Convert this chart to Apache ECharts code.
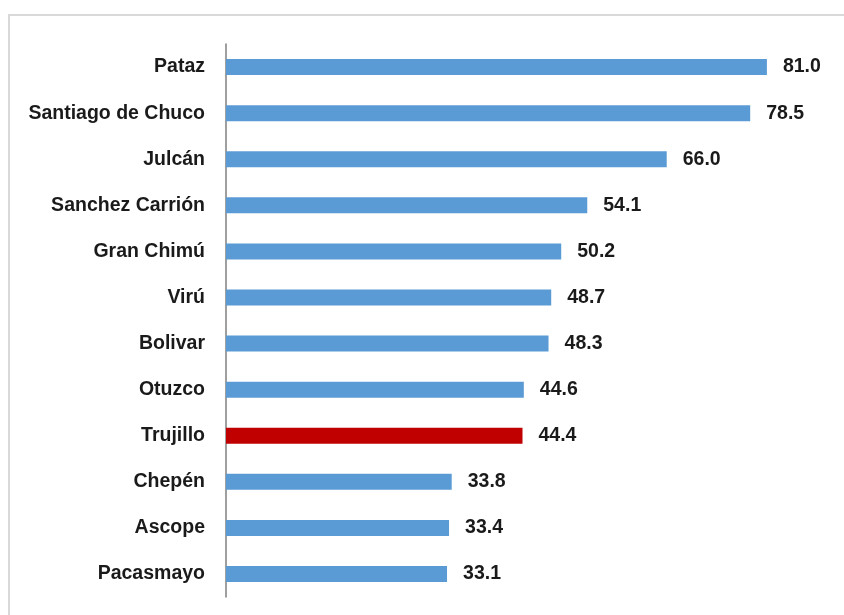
<!DOCTYPE html>
<html>
<head>
<meta charset="utf-8">
<script src="https://cdn.jsdelivr.net/npm/echarts@6/dist/echarts.min.js"></script>
<style>
  html, body { margin: 0; padding: 0; background: #fff; }
  #chart { width: 844px; height: 615px; }
</style>
</head>
<body>
<div id="chart"></div>
<script>
// provincias, de arriba hacia abajo
const provincias = [
  'Pataz', 'Santiago de Chuco', 'Julcán', 'Sanchez Carrión', 'Gran Chimú', 'Virú',
  'Bolivar', 'Otuzco', 'Trujillo', 'Chepén', 'Ascope', 'Pacasmayo'
]
const valores = [81.0, 78.5, 66.0, 54.1, 50.2, 48.7, 48.3, 44.6, 44.4, 33.8, 33.4, 33.1]
const destacada = 'Trujillo'

const azul = '#5b9bd5'
const rojo = '#c00000'
const fuente = '"Liberation Sans", Arial, sans-serif'

const chart = echarts.init(document.getElementById('chart'))

const option = {
  backgroundColor: '#fff',
  animation: false,
  graphic: [{
    type: 'rect',
    shape: { x: 9, y: 15, width: 900, height: 700 },
    style: { fill: 'none', stroke: '#d9d9d9', lineWidth: 2 },
    silent: true
  }],
  grid: {
    left: 226, top: 44, width: 601, height: 553,
    containLabel: false,
    outerBoundsMode: 'none'
  },
  xAxis: {
    type: 'value',
    min: 0,
    max: 90,
    show: false
  },
  yAxis: {
    type: 'category',
    inverse: true,
    data: provincias,
    axisLine: { show: true, lineStyle: { color: '#7f7f7f', width: 1.5 } },
    axisTick: { show: false },
    axisLabel: {
      margin: 21,
      color: '#1a1a1a',
      fontFamily: fuente,
      fontWeight: 'bold',
      fontSize: 19.5
    }
  },
  series: [{
    type: 'bar',
    barWidth: 16,
    data: valores.map((v, i) => ({
      value: v,
      itemStyle: { color: provincias[i] === destacada ? rojo : azul }
    })),
    label: {
      show: true,
      position: 'right',
      distance: 16,
      formatter: p => p.value.toFixed(1),
      color: '#1a1a1a',
      fontFamily: fuente,
      fontWeight: 'bold',
      fontSize: 19.5
    }
  }]
}

chart.setOption(option)
window.addEventListener('resize', () => chart.resize())
</script>
</body>
</html>
